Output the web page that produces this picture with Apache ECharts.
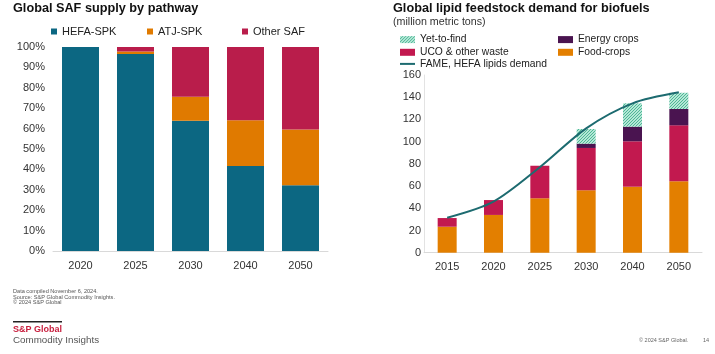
<!DOCTYPE html>
<html>
<head>
<meta charset="utf-8">
<script src="https://cdn.jsdelivr.net/npm/echarts@6/dist/echarts.min.js"></script>
<style>
  html, body { margin: 0; padding: 0; background: #fff; }
  #chart { width: 715px; height: 354px; }
</style>
</head>
<body>
<div id="chart"></div>
<script>
// SAF supply shares by pathway (%)
const safYears = ['2020', '2025', '2030', '2040', '2050'];
const hefaSpk = [100, 96.6, 63.9, 41.7, 32.2];
const atjSpk = [0, 1.2, 11.7, 22.4, 27.3];
const otherSaf = [0, 2.2, 24.4, 35.9, 40.5];
const safTicks = [0, 10, 20, 30, 40, 50, 60, 70, 80, 90, 100];

// Lipid feedstock demand (million metric tons)
const lipidYears = ['2015', '2020', '2025', '2030', '2040', '2050'];
const foodCrops = [23.4, 34, 49, 56.2, 59.4, 64.3];
const ucoWaste = [7.8, 13.4, 29.3, 38.1, 40.9, 50.4];
const energyCrops = [0, 0, 0, 3.9, 13.2, 14.7];
const yetToFind = [0, 0, 0, 13.2, 21, 14.6];
const lipidDemand = [31.5, 46, 77, 112, 134.5, 144.4];

const FONT = '"Liberation Sans", Arial, Helvetica, sans-serif';
const C = {
  hefa: '#0c6782', atj: '#e07a00', other: '#b91d4b',
  food: '#e37f00', uco: '#c2194f', energy: '#4a1450', line: '#1d6b70'
};

// fine diagonal hatch for the "Yet-to-find" segments
function hatchPattern() {
  const c = document.createElement('canvas');
  c.width = 3; c.height = 3;
  const g = c.getContext('2d');
  g.fillStyle = '#b4e8d6';
  g.fillRect(0, 0, 3, 3);
  g.fillStyle = '#4fb596';
  for (let i = 0; i < 3; i++) g.fillRect(i, 2 - i, 1, 1);
  return { image: c, repeat: 'repeat' };
}
const hatch = hatchPattern();

function legendAt(name, left, top, opts) {
  return Object.assign({
    data: [name], left: left, top: top, padding: 0,
    itemWidth: 6, itemHeight: 6, icon: 'rect',
    selectedMode: false,
    textStyle: { fontFamily: FONT, fontSize: 11, color: '#222' }
  }, opts || {});
}
const rightText = { fontFamily: FONT, fontSize: 10.3, color: '#222' };

const chart = echarts.init(document.getElementById('chart'), null, { renderer: 'canvas' });

const axisText = { fontFamily: FONT, fontSize: 11, color: '#333' };

chart.setOption({
  animation: false,
  backgroundColor: '#fff',
  title: [
    { text: 'Global SAF supply by pathway', left: 13, top: 2, padding: 0,
      textStyle: { fontFamily: FONT, fontSize: 12.7, fontWeight: 'bold', color: '#111' } },
    { text: 'Global lipid feedstock demand for biofuels', left: 393, top: 2, padding: 0,
      textStyle: { fontFamily: FONT, fontSize: 12.7, fontWeight: 'bold', color: '#111' } },
    { text: '(million metric tons)', left: 393, top: 16.5, padding: 0,
      textStyle: { fontFamily: FONT, fontSize: 10.7, fontWeight: 'normal', color: '#333' } }
  ],
  legend: [
    legendAt('HEFA-SPK', 51, 26),
    legendAt('ATJ-SPK', 147, 26),
    legendAt('Other SAF', 242, 26),
    legendAt('Yet-to-find', 400, 34.6, { itemWidth: 15, itemHeight: 7, textStyle: rightText }),
    legendAt('UCO & other waste', 400, 47.3, { itemWidth: 15, itemHeight: 7, textStyle: rightText }),
    legendAt('FAME, HEFA lipids demand', 400, 58.9, { itemWidth: 15, itemHeight: 2, textStyle: rightText }),
    legendAt('Energy crops', 558, 34.6, { itemWidth: 15, itemHeight: 7, textStyle: rightText }),
    legendAt('Food-crops', 558, 47.3, { itemWidth: 15, itemHeight: 7, textStyle: rightText })
  ],
  grid: [
    { left: 53, width: 275, top: 47, height: 204 },
    { left: 424, width: 278, top: 75, height: 177.7 }
  ],
  xAxis: [
    { type: 'category', gridIndex: 0, data: safYears,
      axisLine: { lineStyle: { color: '#d9d9d9' } }, axisTick: { show: false },
      axisLabel: Object.assign({ margin: 9 }, axisText) },
    { type: 'category', gridIndex: 1, data: lipidYears,
      axisLine: { lineStyle: { color: '#d9d9d9' } }, axisTick: { show: false },
      axisLabel: Object.assign({ margin: 9 }, axisText) }
  ],
  yAxis: [
    { type: 'value', gridIndex: 0, min: safTicks[0], max: safTicks[safTicks.length - 1], interval: 10,
      axisLine: { show: false }, axisTick: { show: false }, splitLine: { show: false },
      axisLabel: Object.assign({ margin: 8, formatter: '{value}%' }, axisText) },
    { type: 'value', gridIndex: 1, min: 0, max: 160, interval: 20,
      axisLine: { show: true, lineStyle: { color: '#e3e3e3' } }, axisTick: { show: false }, splitLine: { show: false },
      axisLabel: Object.assign({ margin: 3 }, axisText) }
  ],
  series: [
    { name: 'HEFA-SPK', type: 'bar', stack: 'saf', xAxisIndex: 0, yAxisIndex: 0,
      barWidth: 37, data: hefaSpk, itemStyle: { color: C.hefa } },
    { name: 'ATJ-SPK', type: 'bar', stack: 'saf', xAxisIndex: 0, yAxisIndex: 0,
      barWidth: 37, data: atjSpk, itemStyle: { color: C.atj } },
    { name: 'Other SAF', type: 'bar', stack: 'saf', xAxisIndex: 0, yAxisIndex: 0,
      barWidth: 37, data: otherSaf, itemStyle: { color: C.other } },

    { name: 'Food-crops', type: 'bar', stack: 'lipid', xAxisIndex: 1, yAxisIndex: 1,
      barWidth: 19, data: foodCrops, itemStyle: { color: C.food } },
    { name: 'UCO & other waste', type: 'bar', stack: 'lipid', xAxisIndex: 1, yAxisIndex: 1,
      barWidth: 19, data: ucoWaste, itemStyle: { color: C.uco } },
    { name: 'Energy crops', type: 'bar', stack: 'lipid', xAxisIndex: 1, yAxisIndex: 1,
      barWidth: 19, data: energyCrops, itemStyle: { color: C.energy } },
    { name: 'Yet-to-find', type: 'bar', stack: 'lipid', xAxisIndex: 1, yAxisIndex: 1,
      barWidth: 19, data: yetToFind, itemStyle: { color: hatch } },
    { name: 'FAME, HEFA lipids demand', type: 'line', xAxisIndex: 1, yAxisIndex: 1,
      data: lipidDemand, smooth: 0.3, showSymbol: false, symbol: 'none', color: C.line,
      lineStyle: { color: C.line, width: 2 }, itemStyle: { color: C.line }, z: 5 }
  ],
  graphic: [
    { type: 'text', left: 13, top: 288.5, style: { text: 'Data compiled November 6, 2024.', font: '5.6px ' + FONT, fill: '#555' } },
    { type: 'text', left: 13, top: 294, style: { text: 'Source: S&P Global Commodity Insights.', font: '5.6px ' + FONT, fill: '#555' } },
    { type: 'text', left: 13, top: 299.5, style: { text: '\u00A9 2024 S&P Global', font: '5.6px ' + FONT, fill: '#555' } },
    { type: 'rect', left: 13, top: 321, shape: { width: 49, height: 1.5 }, style: { fill: '#222' } },
    { type: 'text', left: 13, top: 325, style: { text: 'S&P Global', font: 'bold 9px ' + FONT, fill: '#c8203f' } },
    { type: 'text', left: 13, top: 335.5, style: { text: 'Commodity Insights', font: '9.8px ' + FONT, fill: '#555' } },
    { type: 'text', left: 639, top: 337.5, style: { text: '\u00A9 2024 S&P Global.', font: '5.5px ' + FONT, fill: '#666' } },
    { type: 'text', left: 703, top: 337.5, style: { text: '14', font: '5.5px ' + FONT, fill: '#666' } }
  ]
});
</script>
</body>
</html>
